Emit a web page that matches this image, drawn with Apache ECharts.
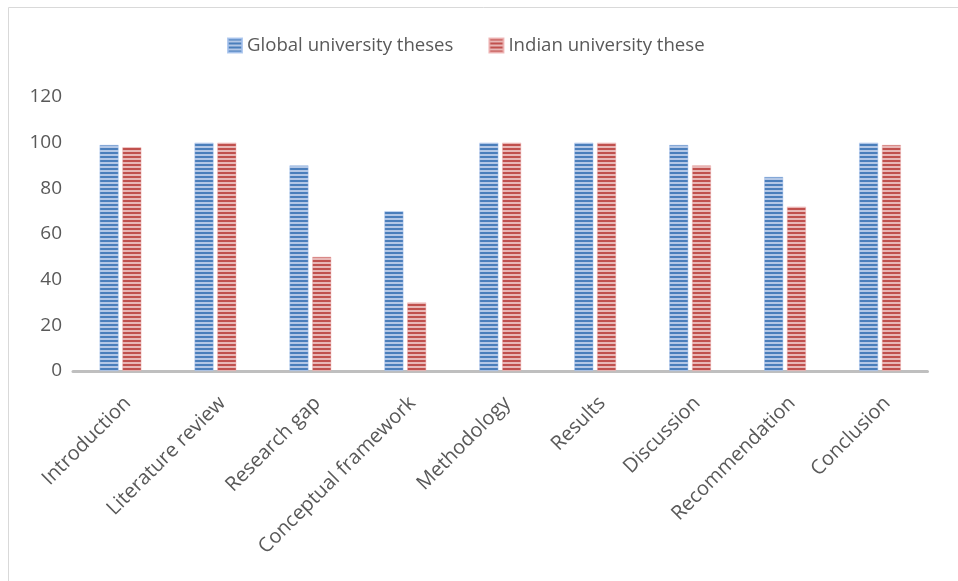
<!DOCTYPE html>
<html><head><meta charset="utf-8">
<script src="https://cdn.jsdelivr.net/npm/echarts@6/dist/echarts.min.js"></script>
<style>html,body{margin:0;padding:0;background:#fff}#c{width:958px;height:581px}</style>
</head><body><div id="c"></div>
<script>
const categories = ['Introduction','Literature review','Research gap','Conceptual framework','Methodology','Results','Discussion','Recommendation','Conclusion'];
const globalValues = [99,100,90,70,100,100,99,85,100];
const indianValues = [98,100,50,30,100,100,90,72,99];
const seriesNames = ['Global university theses','Indian university these'];
const yTicks = [0,20,40,60,80,100,120];

function stripe(dark, light){
  const c = document.createElement('canvas');
  c.width = 4; c.height = 4;
  const g = c.getContext('2d');
  g.fillStyle = light; g.fillRect(0,0,4,4);
  g.fillStyle = dark; g.fillRect(0,0,4,2);
  return {image:c, repeat:'repeat'};
}
const bluePat = stripe('#4a7ebb','#b3c7e6');
const redPat = stripe('#c0504d','#e8b7b6');

const chart = echarts.init(document.getElementById('c'));
chart.setOption({
  animation:false,
  textStyle:{fontFamily:'Open Sans'},
  graphic:[{type:'rect',shape:{x:8.5,y:7.5,width:1000,height:1000},style:{fill:'none',stroke:'#d9d9d9',lineWidth:1},silent:true}],
  legend:{
    top:31, left:222, itemGap:35, itemWidth:14, itemHeight:14,
    icon:'rect',
    textStyle:{fontSize:18.6,color:'#595959',fontFamily:'Open Sans'},
    data:seriesNames
  },
  grid:{left:73,right:30.5,top:97,bottom:210,containLabel:false},
  xAxis:{
    type:'category', data:categories,
    axisLine:{lineStyle:{color:'#bfbfbf',width:3}},
    axisTick:{show:false},
    axisLabel:{rotate:45,fontSize:20,color:'#595959',margin:22,interval:0,verticalAlign:'top',fontFamily:'Open Sans'}
  },
  yAxis:{
    type:'value', min:yTicks[0], max:yTicks[yTicks.length-1], interval:20,
    axisLine:{show:false}, axisTick:{show:false}, splitLine:{show:false},
    axisLabel:{fontSize:19,color:'#595959',margin:11,fontFamily:'Open Sans'}
  },
  series:[
    {name:seriesNames[0],type:'bar',data:globalValues,barWidth:'20%',barGap:'20%',
     itemStyle:{color:bluePat,borderColor:'rgba(160,190,235,0.8)',borderWidth:0.6}},
    {name:seriesNames[1],type:'bar',data:indianValues,barWidth:'20%',barGap:'20%',
     itemStyle:{color:redPat,borderColor:'rgba(235,170,170,0.8)',borderWidth:0.6}}
  ]
});
</script></body></html>
